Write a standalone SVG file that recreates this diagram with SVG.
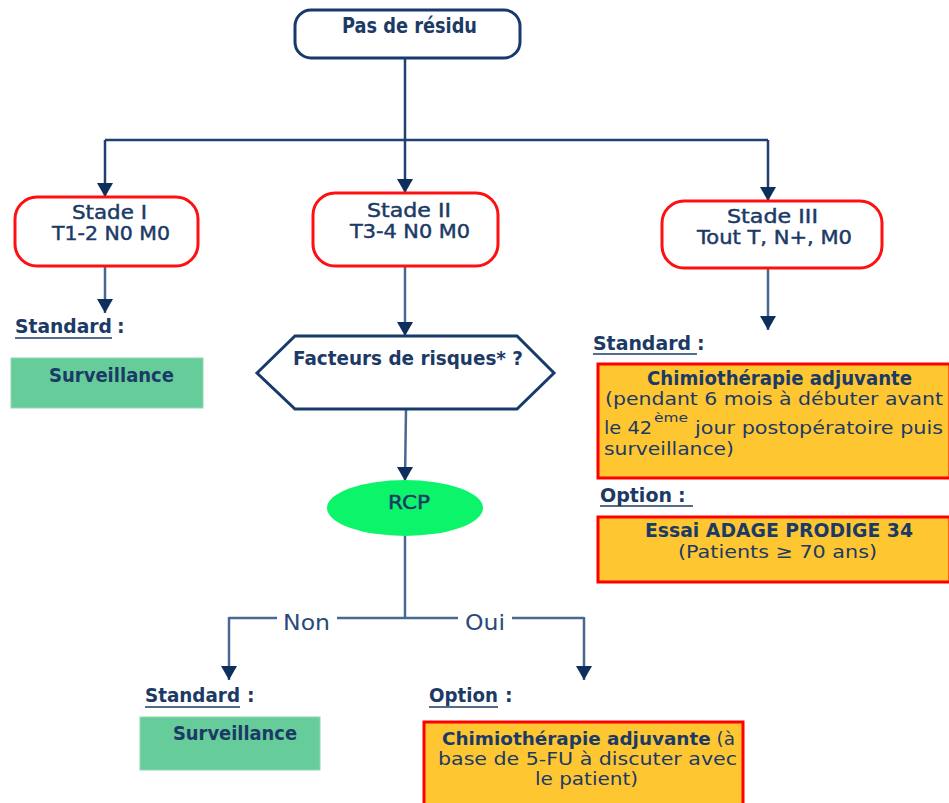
<svg xmlns="http://www.w3.org/2000/svg" width="949" height="803" viewBox="0 0 949 803">
  <defs>
    <marker id="arrowDown" markerUnits="userSpaceOnUse" markerWidth="16" markerHeight="14" viewBox="0 0 16 14" refX="8" refY="14" orient="0">
      <path d="M0,0 L16,0 L8,14 Z" fill="#0e2f5c"/>
    </marker>
  </defs>
  <style>
    text { font-family: "DejaVu Sans", "Liberation Sans", sans-serif; fill: #1c3a66; }
    .b { font-weight: bold; }
    .med { stroke: #1c3a66; stroke-width: 0.45; }
    .f19 { font-size: 19px; }
    .f18 { font-size: 18px; }
    .f21 { font-size: 21px; }
    .sup { font-size: 13px; }
    .lbl { font-size: 22px; fill: #2a4a78; }
    .navy { fill: #ffffff; stroke: #173a6a; stroke-width: 3; }
    .stage { fill: #ffffff; stroke: #ff1010; stroke-width: 3; }
    .green { fill: #66cc99; stroke: #8fd8b0; stroke-width: 1; }
    .orange { fill: #fec630; stroke: #ff0000; stroke-width: 3; }
    .ul { stroke: #1c3a66; stroke-width: 1.5; }
    .trunk { fill: none; stroke: #1e4170; stroke-width: 2.5; }
    .link { fill: none; stroke: #4a6792; stroke-width: 2.5; }
  </style>

  <!-- connectors -->
  <g id="connectors">
    <path class="trunk" d="M405,58 V140"/>
    <path class="trunk" d="M105,140 H768"/>
    <path class="trunk" d="M105,140 V197" marker-end="url(#arrowDown)"/>
    <path class="trunk" d="M405,140 V193" marker-end="url(#arrowDown)"/>
    <path class="trunk" d="M768,140 V201" marker-end="url(#arrowDown)"/>
    <path class="link" d="M105,266 V313" marker-end="url(#arrowDown)"/>
    <path class="link" d="M405,266 V336" marker-end="url(#arrowDown)"/>
    <path class="link" d="M768,268 V330" marker-end="url(#arrowDown)"/>
    <path class="link" d="M406,409 L405,481" marker-end="url(#arrowDown)"/>
    <path class="link" d="M405,536 V618"/>
    <path class="link" d="M229,618 H277 M337,618 H458 M512,618 H584"/>
    <path class="link" d="M229,617 V680" marker-end="url(#arrowDown)"/>
    <path class="link" d="M584,617 V680" marker-end="url(#arrowDown)"/>
    <text class="lbl" x="283" y="630" textLength="47" lengthAdjust="spacingAndGlyphs">Non</text>
    <text class="lbl" x="465" y="630" textLength="40" lengthAdjust="spacingAndGlyphs">Oui</text>
  </g>

  <g id="pas-de-residu">
    <rect class="navy" x="295" y="10" width="225" height="48" rx="16"/>
    <text class="f21 b" x="342" y="33" textLength="135" lengthAdjust="spacingAndGlyphs">Pas de résidu</text>
  </g>

  <g id="stade-1">
    <rect class="stage" x="15" y="197" width="183" height="69" rx="22"/>
    <text class="f19 med" x="72" y="219" textLength="75" lengthAdjust="spacingAndGlyphs">Stade I</text>
    <text class="f19 med" x="52" y="240" textLength="118" lengthAdjust="spacingAndGlyphs">T1-2 N0 M0</text>
  </g>

  <g id="stade-2">
    <rect class="stage" x="313" y="193" width="185" height="73" rx="22"/>
    <text class="f19 med" x="367" y="217" textLength="84" lengthAdjust="spacingAndGlyphs">Stade II</text>
    <text class="f19 med" x="350" y="238" textLength="120" lengthAdjust="spacingAndGlyphs">T3-4 N0 M0</text>
  </g>

  <g id="stade-3">
    <rect class="stage" x="662" y="201" width="220" height="67" rx="22"/>
    <text class="f19 med" x="727" y="223" textLength="91" lengthAdjust="spacingAndGlyphs">Stade III</text>
    <text class="f19 med" x="697" y="244" textLength="155" lengthAdjust="spacingAndGlyphs">Tout T, N+, M0</text>
  </g>

  <!-- stade I outcome -->
  <g id="standard-1">
    <text class="f19 b" x="15" y="333" textLength="97" lengthAdjust="spacingAndGlyphs">Standard</text>
    <text class="f19 b" x="117" y="333">:</text>
    <line class="ul" x1="15" y1="338" x2="112" y2="338"/>
  </g>
  <g id="surveillance-1">
    <rect class="green" x="11" y="358" width="192" height="50"/>
    <text class="f19 b" x="49" y="382" textLength="125" lengthAdjust="spacingAndGlyphs">Surveillance</text>
  </g>

  <!-- stade II path -->
  <g id="facteurs-risques">
    <polygon class="navy" points="257,373 295,336 517,336 554,373 517,409 295,409"/>
    <text class="f19 b" x="293" y="365" textLength="230" lengthAdjust="spacingAndGlyphs">Facteurs de risques* ?</text>
  </g>
  <g id="rcp">
    <ellipse cx="405" cy="508" rx="78" ry="28" fill="#0cf56a"/>
    <text class="f19 med" x="388" y="509" textLength="42" lengthAdjust="spacingAndGlyphs">RCP</text>
  </g>

  <g id="standard-2">
    <text class="f19 b" x="145" y="702" textLength="95" lengthAdjust="spacingAndGlyphs">Standard</text>
    <text class="f19 b" x="247" y="702">:</text>
    <line class="ul" x1="145" y1="707" x2="240" y2="707"/>
  </g>
  <g id="surveillance-2">
    <rect class="green" x="140" y="717" width="180" height="53"/>
    <text class="f19 b" x="173" y="740" textLength="124" lengthAdjust="spacingAndGlyphs">Surveillance</text>
  </g>

  <g id="option-2">
    <text class="f19 b" x="429" y="702" textLength="69" lengthAdjust="spacingAndGlyphs">Option</text>
    <text class="f19 b" x="505" y="702">:</text>
    <line class="ul" x1="429" y1="707" x2="498" y2="707"/>
  </g>
  <g id="chimio-option">
    <rect class="orange" x="424" y="722" width="319" height="84"/>
    <text class="f18" x="442" y="745" textLength="293" lengthAdjust="spacingAndGlyphs"><tspan class="b">Chimiothérapie adjuvante</tspan> (à</text>
    <text class="f18" x="438" y="765" textLength="299" lengthAdjust="spacingAndGlyphs">base de 5-FU à discuter avec</text>
    <text class="f18" x="535" y="785" textLength="103" lengthAdjust="spacingAndGlyphs">le patient)</text>
  </g>

  <!-- stade III outcome -->
  <g id="standard-3">
    <text class="f19 b" x="593" y="350" textLength="98" lengthAdjust="spacingAndGlyphs">Standard</text>
    <text class="f19 b" x="697" y="350">:</text>
    <line class="ul" x1="593" y1="354" x2="697" y2="354"/>
  </g>
  <g id="chimio-standard">
    <rect class="orange" x="598" y="364" width="352" height="114"/>
    <text class="f19 b" x="647" y="385" textLength="265" lengthAdjust="spacingAndGlyphs">Chimiothérapie adjuvante</text>
    <text class="f18" x="605" y="405" textLength="338" lengthAdjust="spacingAndGlyphs">(pendant 6 mois à débuter avant</text>
    <text class="f18" x="604" y="434" textLength="48" lengthAdjust="spacingAndGlyphs">le 42</text>
    <text class="sup" x="654" y="422" textLength="34" lengthAdjust="spacingAndGlyphs">ème</text>
    <text class="f18" x="695" y="434" textLength="248" lengthAdjust="spacingAndGlyphs">jour postopératoire puis</text>
    <text class="f18" x="604" y="455" textLength="130" lengthAdjust="spacingAndGlyphs">surveillance)</text>
  </g>

  <g id="option-3">
    <text class="f19 b" x="600" y="502" textLength="72" lengthAdjust="spacingAndGlyphs">Option</text>
    <text class="f19 b" x="678" y="502">:</text>
    <line class="ul" x1="600" y1="506" x2="693" y2="506"/>
  </g>
  <g id="essai-adage">
    <rect class="orange" x="598" y="517" width="352" height="65"/>
    <text class="f19 b" x="645" y="537" textLength="268" lengthAdjust="spacingAndGlyphs">Essai ADAGE PRODIGE 34</text>
    <text class="f18" x="678" y="558" textLength="199" lengthAdjust="spacingAndGlyphs">(Patients ≥ 70 ans)</text>
  </g>
</svg>
